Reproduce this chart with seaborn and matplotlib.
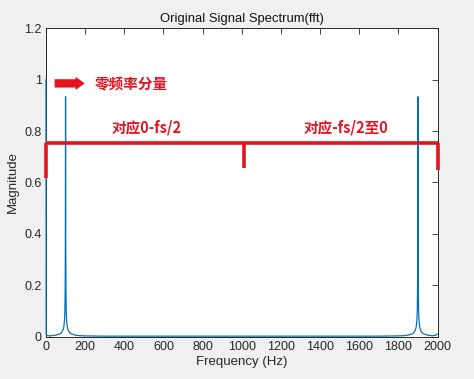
import numpy as np
import matplotlib
matplotlib.use('Agg')
import matplotlib.pyplot as plt
import seaborn as sns
import pandas as pd

# spectrum values (frequency in Hz, magnitude)
freq_hz = [0, 1, 2, 5, 10, 20, 30, 40, 50, 60, 70, 75, 80, 85, 88, 90, 92, 94, 95, 96,
           97, 98, 99, 100, 101, 102, 103, 104, 105, 106, 108, 110, 112, 115, 120, 125,
           130, 140, 150, 170, 200, 300, 500, 700, 900, 1000, 1100, 1300, 1500, 1700,
           1800, 1830, 1850, 1860, 1870, 1875, 1880, 1885, 1888, 1890, 1892, 1894, 1895,
           1896, 1897, 1898, 1899, 1900, 1901, 1902, 1903, 1904, 1905, 1906, 1908, 1910,
           1912, 1915, 1920, 1925, 1930, 1940, 1950, 1960, 1970, 1980, 1990, 1999]
magnitude = [1.0, 0.012, 0.008, 0.006, 0.005, 0.004, 0.005, 0.006, 0.007, 0.009, 0.012,
             0.014, 0.018, 0.024, 0.03, 0.035, 0.045, 0.06, 0.07, 0.09,
             0.12, 0.18, 0.35, 0.933, 0.35, 0.18, 0.12, 0.09, 0.07, 0.06, 0.045, 0.035,
             0.03, 0.024, 0.018, 0.014,
             0.012, 0.009, 0.007, 0.005, 0.004, 0.003, 0.003, 0.003, 0.003, 0.003, 0.003,
             0.003, 0.003, 0.003,
             0.004, 0.005, 0.007, 0.009, 0.012, 0.014, 0.018, 0.024, 0.03, 0.035, 0.045,
             0.06, 0.07,
             0.09, 0.12, 0.18, 0.35, 0.933, 0.35, 0.18, 0.12, 0.09, 0.07, 0.06, 0.045,
             0.035,
             0.03, 0.024, 0.018, 0.014, 0.012, 0.009, 0.007, 0.006, 0.005, 0.005, 0.006,
             0.012]

x_ticks = [0, 200, 400, 600, 800, 1000, 1200, 1400, 1600, 1800, 2000]
y_ticks = [0, 0.2, 0.4, 0.6, 0.8, 1.0, 1.2]
y_tick_labels = ['0', '0.2', '0.4', '0.6', '0.8', '1', '1.2']

# red annotation: bracket marking the two halves of the spectrum
bracket_x = [0, 1010, 2000]
bracket_top = 0.755
bracket_ends = [0.617, 0.656, 0.649]
half_labels = ['对应0-fs/2', '对应-fs/2至0']
half_label_x = [516, 1533]
dc_label = '零频率分量'

df = pd.DataFrame({'freq': freq_hz, 'mag': magnitude})

sns.set_theme(style='white')
plt.rcParams['font.family'] = ['Liberation Sans', 'Noto Sans CJK SC', 'DejaVu Sans']

fig = plt.figure(figsize=(4.74, 3.79), dpi=100, facecolor='#f0f0f0')
ax = fig.add_axes([0.097, 0.111, 0.826, 0.815])
ax.set_facecolor('white')

# spectrum line sits above the frame, like matlab draws it
sns.lineplot(x='freq', y='mag', data=df, estimator=None, sort=False,
             color='#0072BD', linewidth=0.9, ax=ax, zorder=4, clip_on=False)

ax.set_xlim(0, 2000)
ax.set_ylim(0, 1.2)
ax.set_xticks(x_ticks)
ax.set_yticks(y_ticks)
ax.set_yticklabels(y_tick_labels)
ax.tick_params(direction='in', length=4, width=0.6, colors='#262626',
               labelsize=9, top=True, right=True, pad=3)
for s in ax.spines.values():
    s.set_color('#262626')
    s.set_linewidth(0.7)

ax.set_title('Original Signal Spectrum(fft)', fontsize=9.4, color='#111111', pad=4)
ax.set_xlabel('Frequency (Hz)', fontsize=9.5, color='#262626', labelpad=2)
ax.set_ylabel('Magnitude', fontsize=9.5, color='#262626', labelpad=4)

red = '#e5131f'
# bracket lines, drawn above the axes frame
ax.plot([bracket_x[0], bracket_x[-1]], [bracket_top, bracket_top], color=red, lw=2.6,
        solid_capstyle='butt', zorder=5, clip_on=False)
for bx, by in zip(bracket_x, bracket_ends):
    ax.plot([bx, bx], [bracket_top, by], color=red, lw=2.6, solid_capstyle='butt',
            clip_on=False, zorder=5)
for lx, txt in zip(half_label_x, half_labels):
    ax.text(lx, 0.813, txt, color=red, fontsize=10.5, fontweight='bold',
            ha='center', va='center', family=['Noto Sans CJK SC', 'DejaVu Sans'])

# DC component arrow and label
ax.annotate('', xy=(212, 0.985), xytext=(30, 0.985),
            arrowprops=dict(arrowstyle='simple,head_length=0.55,head_width=0.8,tail_width=0.5',
                            color=red, lw=0))
ax.text(250, 0.985, dc_label, color=red, fontsize=10.5, fontweight='bold',
        ha='left', va='center', family=['Noto Sans CJK SC', 'DejaVu Sans'])

plt.savefig('out.png', dpi=100, facecolor=fig.get_facecolor())
